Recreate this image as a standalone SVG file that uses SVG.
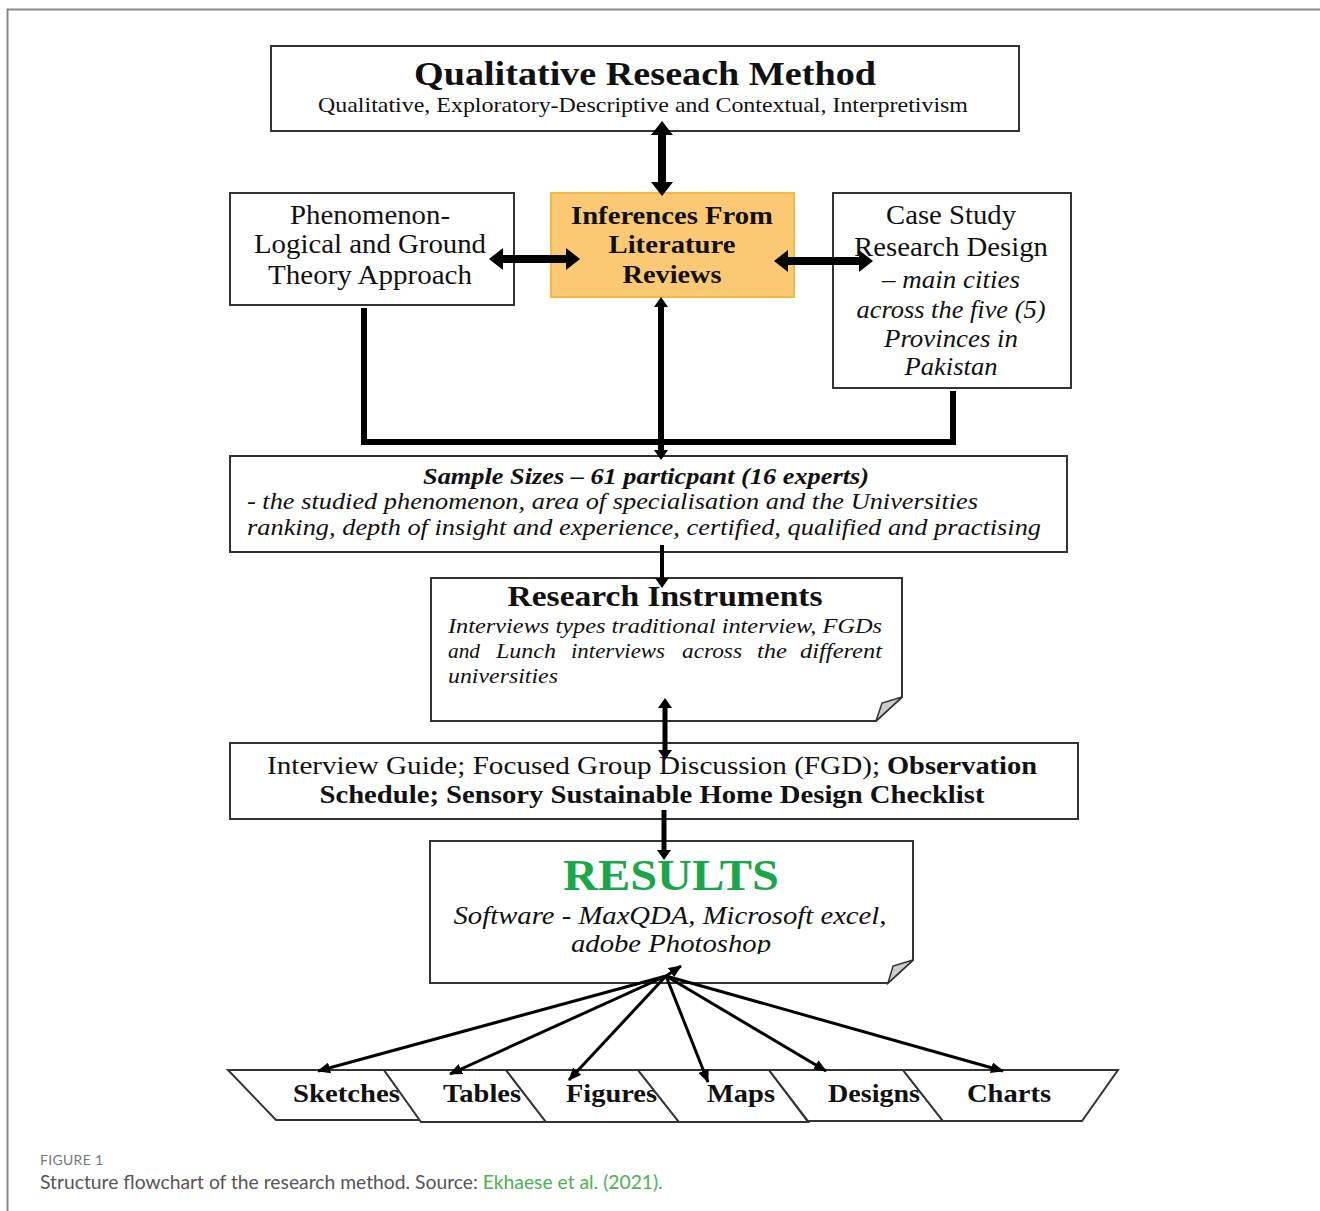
<svg xmlns="http://www.w3.org/2000/svg" width="1320" height="1211" viewBox="0 0 1320 1211">
<style>
.box{fill:#fff;stroke:#333;stroke-width:2}
.t{font-family:"Liberation Serif",serif;fill:#111}
.b{font-weight:bold}
.i{font-style:italic}
.c{text-anchor:middle}
.conn{stroke:#000;fill:none}
.cap{font-family:Lato,"Open Sans",sans-serif}
</style>
<defs>
<marker id="hb" viewBox="0 0 14 22" refX="0" refY="11" markerWidth="14" markerHeight="22" markerUnits="userSpaceOnUse" orient="auto-start-reverse"><path d="M0,0 L14,11 L0,22 z" fill="#000"/></marker>
<marker id="hs" viewBox="0 0 10 14" refX="0" refY="7" markerWidth="10" markerHeight="14" markerUnits="userSpaceOnUse" orient="auto-start-reverse"><path d="M0,0 L10,7 L0,14 z" fill="#000"/></marker>
<marker id="hf" viewBox="0 0 13 11" refX="12" refY="5.5" markerWidth="13" markerHeight="11" markerUnits="userSpaceOnUse" orient="auto"><path d="M0,0 L13,5.5 L0,11 z" fill="#000"/></marker>
<clipPath id="resclip"><rect x="430" y="841" width="483" height="113"/></clipPath>
</defs>

<rect x="0" y="0" width="1320" height="1211" fill="#fff"/>
<path d="M7.5,1211 V9.5 H1320" fill="none" stroke="#888" stroke-width="2"/>

<g id="n-method">
<rect class="box" x="271" y="46" width="748" height="85"/>
<text class="t b c" x="645" y="85" font-size="33" textLength="462" lengthAdjust="spacingAndGlyphs">Qualitative Reseach Method</text>
<text class="t c" x="643" y="112" font-size="21" textLength="650" lengthAdjust="spacingAndGlyphs">Qualitative, Exploratory-Descriptive and Contextual, Interpretivism</text>
</g>

<g id="n-phenomenon">
<rect class="box" x="230" y="193" width="284" height="112"/>
<text class="t c" x="370" y="224" font-size="27" textLength="160" lengthAdjust="spacingAndGlyphs">Phenomenon-</text>
<text class="t c" x="370" y="253" font-size="27" textLength="232" lengthAdjust="spacingAndGlyphs">Logical and Ground</text>
<text class="t c" x="370" y="284" font-size="27" textLength="204" lengthAdjust="spacingAndGlyphs">Theory Approach</text>
</g>

<g id="n-inferences">
<rect x="551" y="193" width="243" height="104" fill="#fbc974" stroke="#f4b942" stroke-width="2"/>
<text class="t b c" x="672" y="224" font-size="26" textLength="202" lengthAdjust="spacingAndGlyphs">Inferences From</text>
<text class="t b c" x="672" y="253" font-size="26" textLength="127" lengthAdjust="spacingAndGlyphs">Literature</text>
<text class="t b c" x="672" y="283" font-size="26" textLength="99" lengthAdjust="spacingAndGlyphs">Reviews</text>
</g>

<g id="n-casestudy">
<rect class="box" x="833" y="193" width="238" height="195"/>
<text class="t c" x="951" y="224" font-size="27" textLength="130" lengthAdjust="spacingAndGlyphs">Case Study</text>
<text class="t c" x="951" y="256" font-size="27" textLength="194" lengthAdjust="spacingAndGlyphs">Research Design</text>
<text class="t i c" x="951" y="288" font-size="26" textLength="138" lengthAdjust="spacingAndGlyphs">– main cities</text>
<text class="t i c" x="951" y="318" font-size="26" textLength="189" lengthAdjust="spacingAndGlyphs">across the five (5)</text>
<text class="t i c" x="951" y="347" font-size="26" textLength="134" lengthAdjust="spacingAndGlyphs">Provinces in</text>
<text class="t i c" x="951" y="375" font-size="26" textLength="93" lengthAdjust="spacingAndGlyphs">Pakistan</text>
</g>

<g id="n-sample">
<rect class="box" x="230" y="456" width="837" height="96"/>
<text class="t b i c" x="646" y="484" font-size="23" textLength="446" lengthAdjust="spacingAndGlyphs">Sample Sizes – 61 particpant (16 experts)</text>
<text class="t i" x="247" y="509" font-size="23" textLength="731" lengthAdjust="spacingAndGlyphs">- the studied phenomenon, area of specialisation and the Universities</text>
<text class="t i" x="247" y="535" font-size="23" textLength="794" lengthAdjust="spacingAndGlyphs">ranking, depth of insight and experience, certified, qualified and practising</text>
</g>

<g id="n-instruments">
<path class="box" d="M431,578 H902 V697 L876,721 H431 Z"/>
<path d="M876,721 L882,703 L902,697 Z" fill="#ccc" stroke="#333" stroke-width="1.5"/>
<text class="t b c" x="665" y="606" font-size="29" textLength="315" lengthAdjust="spacingAndGlyphs">Research Instruments</text>
<text class="t i" x="448" y="633" font-size="20" textLength="434" lengthAdjust="spacingAndGlyphs">Interviews types traditional interview, FGDs</text>
<text class="t i" x="448" y="658" font-size="20" textLength="32" lengthAdjust="spacingAndGlyphs">and</text>
<text class="t i" x="496" y="658" font-size="20" textLength="60" lengthAdjust="spacingAndGlyphs">Lunch</text>
<text class="t i" x="571" y="658" font-size="20" textLength="94" lengthAdjust="spacingAndGlyphs">interviews</text>
<text class="t i" x="682" y="658" font-size="20" textLength="60" lengthAdjust="spacingAndGlyphs">across</text>
<text class="t i" x="757" y="658" font-size="20" textLength="30" lengthAdjust="spacingAndGlyphs">the</text>
<text class="t i" x="800" y="658" font-size="20" textLength="82" lengthAdjust="spacingAndGlyphs">different</text>
<text class="t i" x="448" y="683" font-size="20" textLength="110" lengthAdjust="spacingAndGlyphs">universities</text>
</g>

<g id="n-tools">
<rect class="box" x="230" y="743" width="848" height="76"/>
<text class="t" x="267" y="774" font-size="25" textLength="613" lengthAdjust="spacingAndGlyphs">Interview Guide; Focused Group Discussion (FGD);</text>
<text class="t b" x="887" y="774" font-size="25" textLength="150" lengthAdjust="spacingAndGlyphs">Observation</text>
<text class="t b c" x="652" y="803" font-size="25" textLength="665" lengthAdjust="spacingAndGlyphs">Schedule; Sensory Sustainable Home Design Checklist</text>
</g>

<g id="n-results">
<path class="box" d="M430,841 H913 V960 L888,983 H430 Z"/>
<path d="M888,983 L893,966 L913,960 Z" fill="#ccc" stroke="#333" stroke-width="1.5"/>
<text class="t b c" x="671" y="890" font-size="44" style="fill:#1aa64a" textLength="216" lengthAdjust="spacingAndGlyphs">RESULTS</text>
<g clip-path="url(#resclip)">
<text class="t i c" x="670" y="924" font-size="25" textLength="433" lengthAdjust="spacingAndGlyphs">Software - MaxQDA, Microsoft excel,</text>
<text class="t i c" x="671" y="952" font-size="25" textLength="200" lengthAdjust="spacingAndGlyphs">adobe Photoshop</text>
</g>
</g>

<g id="n-sketches"><path class="box" d="M228,1070 H384 L421,1120 H276 Z"/><text class="t b" x="293" y="1102" font-size="25" textLength="107" lengthAdjust="spacingAndGlyphs">Sketches</text></g>
<g id="n-tables"><path class="box" d="M384,1070 H506 L546,1122 H421 Z"/><text class="t b" x="443" y="1102" font-size="25" textLength="78" lengthAdjust="spacingAndGlyphs">Tables</text></g>
<g id="n-figures"><path class="box" d="M506,1070 H638 L679,1122 H546 Z"/><text class="t b" x="566" y="1102" font-size="25" textLength="91" lengthAdjust="spacingAndGlyphs">Figures</text></g>
<g id="n-maps"><path class="box" d="M638,1070 H769 L808,1122 H679 Z"/><text class="t b" x="707" y="1102" font-size="25" textLength="68" lengthAdjust="spacingAndGlyphs">Maps</text></g>
<g id="n-designs"><path class="box" d="M769,1070 H903 L943,1121 H808 Z"/><text class="t b" x="828" y="1102" font-size="25" textLength="92" lengthAdjust="spacingAndGlyphs">Designs</text></g>
<g id="n-charts"><path class="box" d="M903,1070 H1118 L1082,1121 H943 Z"/><text class="t b" x="967" y="1102" font-size="25" textLength="84" lengthAdjust="spacingAndGlyphs">Charts</text></g>

<g id="connectors">
<line class="conn" x1="662" y1="135" x2="662" y2="182" stroke-width="8" marker-start="url(#hb)" marker-end="url(#hb)"/>
<line class="conn" x1="503" y1="259" x2="566" y2="259" stroke-width="8" marker-start="url(#hb)" marker-end="url(#hb)"/>
<line class="conn" x1="788" y1="261" x2="859" y2="261" stroke-width="8" marker-start="url(#hb)" marker-end="url(#hb)"/>
<path class="conn" d="M364,308 V442 H953 V391" stroke-width="6" stroke-linejoin="miter"/>
<line class="conn" x1="661" y1="307" x2="661" y2="450" stroke-width="6" marker-start="url(#hs)" marker-end="url(#hs)"/>
<line class="conn" x1="662" y1="545" x2="662" y2="578" stroke-width="4" marker-end="url(#hs)"/>
<line class="conn" x1="665" y1="708" x2="665" y2="750" stroke-width="5" marker-start="url(#hs)" marker-end="url(#hs)"/>
<line class="conn" x1="664" y1="810" x2="664" y2="850" stroke-width="5" marker-end="url(#hs)"/>
<g stroke-width="3">
<line class="conn" x1="666" y1="976" x2="681" y2="966" marker-end="url(#hf)"/>
<line class="conn" x1="666" y1="976" x2="318" y2="1071" marker-end="url(#hf)"/>
<line class="conn" x1="666" y1="976" x2="450" y2="1074" marker-end="url(#hf)"/>
<line class="conn" x1="666" y1="976" x2="569" y2="1080" marker-end="url(#hf)"/>
<line class="conn" x1="666" y1="976" x2="708" y2="1082" marker-end="url(#hf)"/>
<line class="conn" x1="666" y1="976" x2="826" y2="1071" marker-end="url(#hf)"/>
<line class="conn" x1="666" y1="976" x2="1003" y2="1071" marker-end="url(#hf)"/>
</g>
</g>

<g id="caption">
<text class="cap" x="40" y="1165" font-size="14" fill="#777" letter-spacing="0.3">FIGURE 1</text>
<text class="cap" x="40" y="1189" font-size="19.3" fill="#555">Structure flowchart of the research method. Source: <tspan fill="#4caf50">Ekhaese et al. (2021).</tspan></text>
</g>
</svg>
